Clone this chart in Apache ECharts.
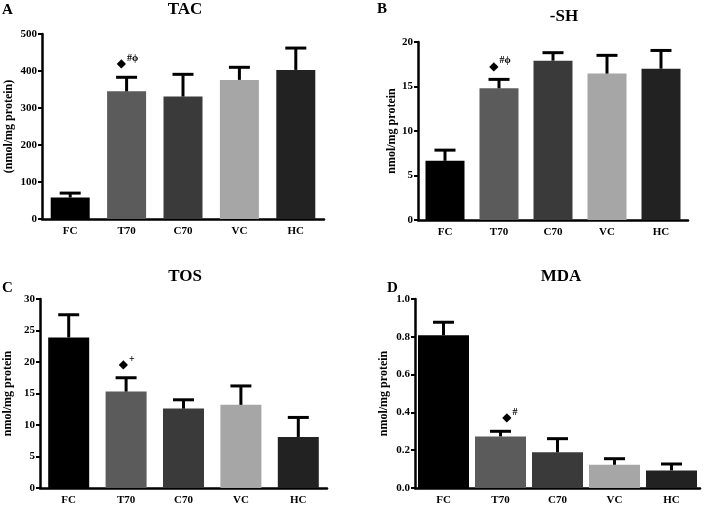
<!DOCTYPE html>
<html>
<head>
<meta charset="utf-8">
<script src="https://cdn.jsdelivr.net/npm/echarts@6/dist/echarts.min.js"></script>
<style>html,body{margin:0;padding:0;background:#fff}#c{width:708px;height:509px}</style>
</head>
<body>
<div id="c"></div>
<script>
// ---- data ----
const categories = ['FC', 'T70', 'C70', 'VC', 'HC'];
const tacMean = [58, 345, 331, 376, 403];
const tacErr  = [12, 38, 60, 34, 59];
const shMean  = [6.65, 14.8, 17.9, 16.45, 17.0];
const shErr   = [1.2, 1.0, 0.9, 2.05, 2.05];
const tosMean = [23.9, 15.3, 12.6, 13.2, 8.1];
const tosErr  = [3.6, 2.2, 1.4, 3.0, 3.1];
const mdaMean = [0.808, 0.273, 0.189, 0.123, 0.093];
const mdaErr  = [0.069, 0.027, 0.072, 0.032, 0.034];
const panelTitles = ['TAC', '-SH', 'TOS', 'MDA'];
const panelLetters = ['A', 'B', 'C', 'D'];
const yNames = ['(nmol/mg protein)', 'nmol/mg protein', 'nmol/mg protein', 'nmol/mg protein'];
const yMax = [500, 20, 30, 1.0];
const yInterval = [100, 5, 5, 0.2];
const annCategory = ['T70', 'T70', 'T70', 'T70'];
const annSup = ['#\u03d5', '#\u03d5', '+', '#'];

// ---- styles ----
const barColors = ['#000000', '#5b5b5b', '#3a3a3a', '#a6a6a6', '#222222'];
const serif = 'Liberation Serif';
const grids = [
  {left: 42, top: 34, width: 282, height: 185},
  {left: 418, top: 42, width: 270, height: 178},
  {left: 40, top: 299, width: 287, height: 189},
  {left: 415, top: 299, width: 285, height: 189}
];
const barWidths = [39, 39, 41, 51];
const nameGaps = [27, 19, 26, 25];
const annDx = [-0.5, -0.5, 2, 11];
const titlePos = [[185, 1], [564, 8], [185, 268], [561, 268]];
const letterPos = [[2, 3], [377, 2], [2, 281], [387, 281]];

const means = [tacMean, shMean, tosMean, mdaMean];
const errs = [tacErr, shErr, tosErr, mdaErr];

function errRender(params, api) {
  const x = api.value(0), m = api.value(1), e = api.value(2);
  const p0 = api.coord([x, m]);
  const p1 = api.coord([x, m + e]);
  const hw = 10.5;
  return {
    type: 'group',
    children: [
      {type: 'line', shape: {x1: p0[0], y1: p0[1], x2: p1[0], y2: p1[1]}, style: {stroke: '#000', lineWidth: 3}},
      {type: 'line', shape: {x1: p1[0] - hw, y1: p1[1], x2: p1[0] + hw, y2: p1[1]}, style: {stroke: '#000', lineWidth: 3}}
    ]
  };
}

function annRender(k) {
  return function (params, api) {
    const x = api.value(0), top = api.value(1) + api.value(2);
    const p = api.coord([x, top]);
    const ax = p[0] + annDx[k];
    return {
      type: 'group',
      children: [
        {type: 'text', x: ax, y: p[1] - 13, style: {text: '\u25c6', font: '12px "DejaVu Sans"', fill: '#000', align: 'right', verticalAlign: 'middle'}},
        {type: 'text', x: ax + 1, y: p[1] - 18.5, style: {text: annSup[k], font: 'bold 10px "Liberation Serif"', fill: '#000', align: 'left', verticalAlign: 'middle'}}
      ]
    };
  };
}

const option = {
  animation: false,
  backgroundColor: '#fff',
  title: [],
  grid: [],
  xAxis: [],
  yAxis: [],
  series: []
};

for (let k = 0; k < 4; k++) {
  option.title.push({
    text: panelTitles[k], left: titlePos[k][0], top: titlePos[k][1], textAlign: 'center', padding: 0,
    textStyle: {fontFamily: serif, fontWeight: 'bold', fontSize: 17, color: '#000'}
  });
  option.title.push({
    text: panelLetters[k], left: letterPos[k][0], top: letterPos[k][1], padding: 0,
    textStyle: {fontFamily: serif, fontWeight: 'bold', fontSize: 15, color: '#000'}
  });
  option.grid.push(Object.assign({containLabel: false}, grids[k]));
  option.xAxis.push({
    type: 'category', gridIndex: k, data: categories,
    axisLine: {lineStyle: {color: '#000', width: 2.5}},
    axisTick: {alignWithLabel: true, length: 4, lineStyle: {color: '#000', width: 2}},
    axisLabel: {fontFamily: serif, fontWeight: 'bold', fontSize: 11, color: '#000', margin: 7},
    splitLine: {show: false}
  });
  option.yAxis.push({
    type: 'value', gridIndex: k, min: 0, max: yMax[k], interval: yInterval[k],
    name: yNames[k], nameLocation: 'middle', nameGap: nameGaps[k],
    nameTextStyle: {fontFamily: serif, fontWeight: 'bold', fontSize: 12, color: '#000'},
    axisLine: {show: true, lineStyle: {color: '#000', width: 2.5}},
    axisTick: {show: true, length: 4, lineStyle: {color: '#000', width: 2}},
    axisLabel: {fontFamily: serif, fontWeight: 'bold', fontSize: 11, color: '#000', margin: 5,
      formatter: k === 3 ? (v => v.toFixed(1)) : (v => String(v))},
    splitLine: {show: false}
  });
  option.series.push({
    type: 'bar', xAxisIndex: k, yAxisIndex: k, barWidth: barWidths[k],
    data: means[k].map((v, i) => ({value: v, itemStyle: {color: barColors[i]}})),
    z: 2
  });
  option.series.push({
    type: 'custom', xAxisIndex: k, yAxisIndex: k, renderItem: errRender,
    encode: {x: 0, y: 1},
    data: means[k].map((v, i) => [i, v, errs[k][i]]),
    z: 3, silent: true
  });
  const ai = categories.indexOf(annCategory[k]);
  option.series.push({
    type: 'custom', xAxisIndex: k, yAxisIndex: k, renderItem: annRender(k),
    encode: {x: 0, y: 1},
    data: [[ai, means[k][ai], errs[k][ai]]],
    z: 4, silent: true
  });
}

const chart = echarts.init(document.getElementById('c'), null, {renderer: 'canvas'});
chart.setOption(option);
</script>
</body>
</html>
